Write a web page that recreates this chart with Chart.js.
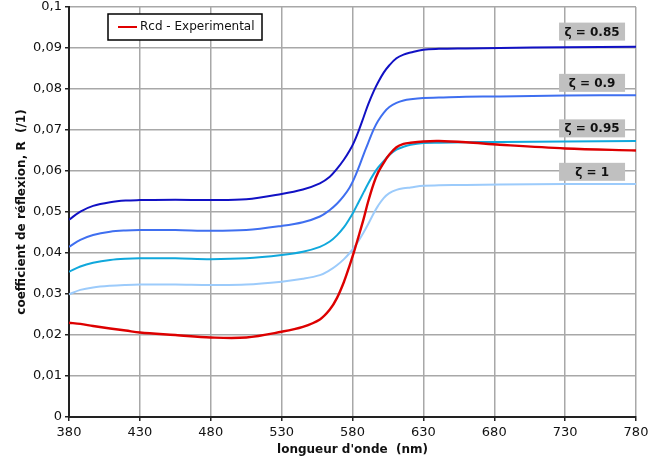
<!DOCTYPE html>
<html>
<head>
<meta charset="utf-8">
<script src="https://cdn.jsdelivr.net/npm/chart.js@4.4.1/dist/chart.umd.min.js"></script>
<style>
  html, body { margin: 0; padding: 0; background: #fff; }
  #wrap { width: 666px; height: 463px; }
</style>
</head>
<body>
<div id="wrap"><canvas id="chart" width="666" height="463"></canvas></div>
<script>
const wavelengths = [380, 388, 397, 409, 420, 430, 455, 480, 505, 530, 545, 557, 564, 569, 574, 578, 581, 584, 588, 591, 595, 598, 602, 606, 611, 616, 621, 630, 641, 660, 684, 730, 780];

// reflection coefficient R for each zeta, plus the measured curve
const zeta085 = [.0481, .0501, .0515, .0524, .0528, .0529, .0530, .0529, .0531, .0544, .0555, .0570, .0586, .0605, .0628, .0650, .0670, .0695, .0733, .0762, .0795, .0816, .0840, .0858, .0875, .0884, .0889, .0896, .0898, .0899, .0900, .0902, .0903];
const zeta09  = [.0415, .0432, .0444, .0452, .0455, .0456, .0456, .0454, .0456, .0466, .0475, .0489, .0505, .0520, .0540, .0560, .0580, .0605, .0642, .0668, .0702, .0722, .0742, .0756, .0766, .0772, .0775, .0778, .0779, .0781, .0782, .0784, .0785];
const zeta095 = [.0354, .0367, .0376, .0383, .0386, .0387, .0387, .0385, .0387, .0395, .0403, .0415, .0428, .0443, .0463, .0484, .0502, .0522, .0549, .0569, .0593, .0608, .0624, .0639, .0652, .0659, .0664, .0668, .0669, .0670, .0671, .0672, .0673];
const zeta1   = [.0299, .0310, .0316, .0320, .0322, .0323, .0323, .0322, .0323, .0330, .0337, .0346, .0358, .0370, .0385, .0400, .0413, .0428, .0451, .0470, .0497, .0515, .0534, .0546, .0554, .0558, .0560, .0564, .0565, .0566, .0567, .0568, .0568];
const rcdExp  = [.0230, .0227, .0222, .0216, .0211, .0206, .0200, .0194, .0194, .0208, .0220, .0238, .0262, .0290, .0330, .0370, .0402, .0437, .0485, .0525, .0570, .0596, .0620, .0640, .0658, .0666, .0669, .0672, .0673, .0670, .0664, .0655, .0650];

const yTickLabels = ['0', '0,01', '0,02', '0,03', '0,04', '0,05', '0,06', '0,07', '0,08', '0,09', '0,1'];

// curve labels: text and where they sit (x in nm, y in R)
const zetaLabels = ['ζ = 0.85', 'ζ = 0.9', 'ζ = 0.95', 'ζ = 1'];
const zetaLabelX = [749, 749, 749, 749];
const zetaLabelY = [0.0940, 0.0815, 0.0704, 0.0598];

const legendText = 'Rcd - Experimental';

function pts(ys) {
  return ys.map((y, i) => ({ x: wavelengths[i], y: y }));
}

function line(label, ys, color, width) {
  return {
    label: label,
    data: pts(ys),
    borderColor: color,
    backgroundColor: color,
    borderWidth: width,
    pointRadius: 0,
    tension: 0.35,
    fill: false
  };
}

// legend box + grey zeta tags, drawn on top of the plot
const overlayPlugin = {
  id: 'overlay',
  afterDatasetsDraw(chart) {
    const ctx = chart.ctx;
    const xs = chart.scales.x, ys = chart.scales.y;
    ctx.save();

    // zeta tags
    ctx.font = 'bold 12px "DejaVu Sans"';
    ctx.textAlign = 'center';
    ctx.textBaseline = 'middle';
    zetaLabels.forEach((t, i) => {
      const cx = xs.getPixelForValue(zetaLabelX[i]);
      const cy = ys.getPixelForValue(zetaLabelY[i]);
      ctx.fillStyle = '#c0c0c0';
      ctx.fillRect(cx - 33, cy - 9, 66, 18);
      ctx.fillStyle = '#111';
      ctx.fillText(t, cx, cy + 1);
    });

    // legend
    const lx = 108, ly = 14, lw = 154, lh = 26;
    ctx.fillStyle = '#fff';
    ctx.fillRect(lx, ly, lw, lh);
    ctx.strokeStyle = '#000';
    ctx.lineWidth = 1.5;
    ctx.strokeRect(lx, ly, lw, lh);
    ctx.strokeStyle = '#e00000';
    ctx.lineWidth = 2;
    ctx.beginPath();
    ctx.moveTo(lx + 10, ly + 13);
    ctx.lineTo(lx + 29, ly + 13);
    ctx.stroke();
    ctx.fillStyle = '#111';
    ctx.font = '12px "DejaVu Sans"';
    ctx.textAlign = 'left';
    ctx.fillText(legendText, lx + 32, ly + 13);

    ctx.restore();
  }
};

new Chart(document.getElementById('chart'), {
  type: 'line',
  data: {
    datasets: [
      line('Rcd - Experimental', rcdExp, '#dd0000', 2.4),
      line('ζ = 0.85', zeta085, '#1111c4', 2),
      line('ζ = 0.9', zeta09, '#3f6ff0', 2),
      line('ζ = 0.95', zeta095, '#10a8dc', 2),
      line('ζ = 1', zeta1, '#9ccbfb', 2)
    ]
  },
  options: {
    responsive: false,
    animation: false,
    devicePixelRatio: 1,
    layout: { padding: { top: 7, right: 30, left: 0, bottom: 0 } },
    plugins: { legend: { display: false }, tooltip: { enabled: false } },
    scales: {
      x: {
        type: 'linear',
        min: 380, max: 780,
        afterFit: s => { s.height = 46; },
        ticks: { stepSize: 50, color: '#111', padding: 4, maxRotation: 0, font: { family: 'DejaVu Sans', size: 13 } },
        grid: { color: '#a8a8a8', lineWidth: 1.5, tickLength: 4, tickColor: '#222' },
        border: { color: '#222', width: 2 },
        title: {
          display: true,
          text: "longueur d'onde  (nm)",
          color: '#111',
          font: { family: 'DejaVu Sans', size: 12, weight: 'bold' },
          padding: { top: 0, bottom: 6 }
        }
      },
      y: {
        min: 0, max: 0.1,
        afterFit: s => { s.width = 69; s.paddingTop = 0; s.paddingBottom = 0; },
        ticks: {
          stepSize: 0.01,
          color: '#111',
          padding: 3,
          font: { family: 'DejaVu Sans', size: 13 },
          callback: (v, i) => yTickLabels[i]
        },
        grid: { color: '#a8a8a8', lineWidth: 1.5, tickLength: 4, tickColor: '#222' },
        border: { color: '#222', width: 2 },
        title: {
          display: true,
          text: 'coefficient de réflexion, R  (/1)',
          color: '#111',
          font: { family: 'DejaVu Sans', size: 12, weight: 'bold' },
          padding: { top: 15, bottom: 0 }
        }
      }
    }
  },
  plugins: [overlayPlugin]
});
</script>
</body>
</html>
